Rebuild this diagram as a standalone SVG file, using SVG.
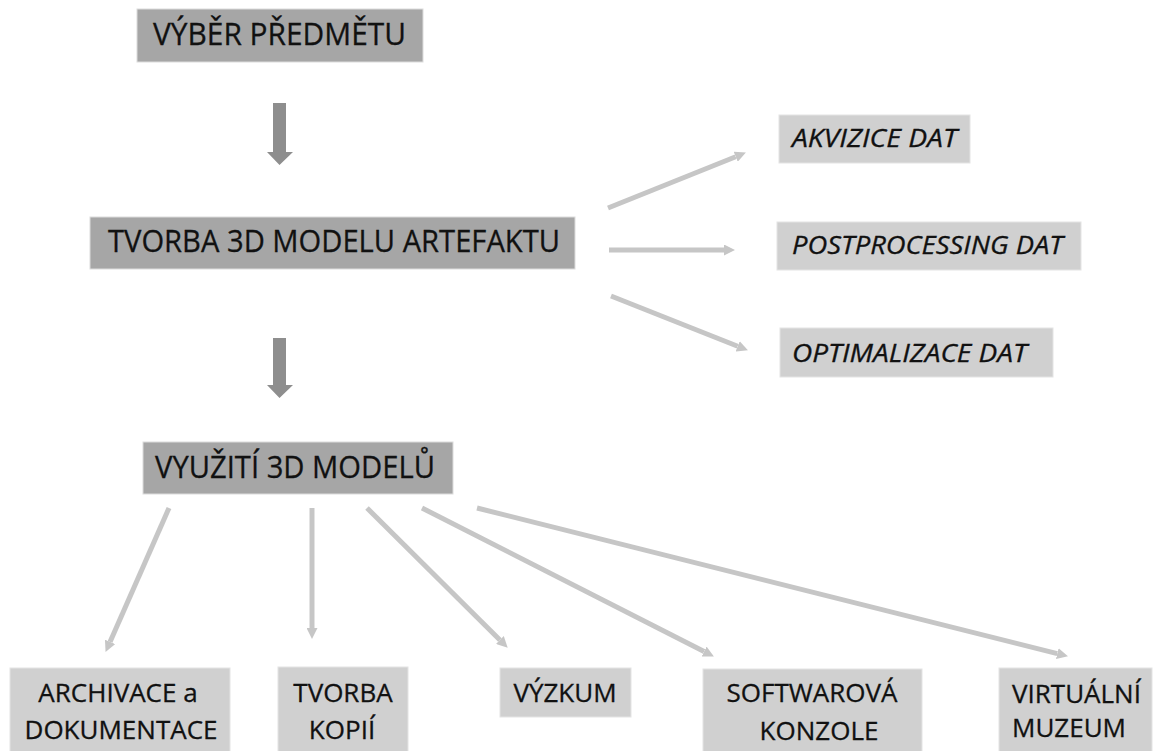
<svg xmlns="http://www.w3.org/2000/svg" width="1158" height="751" viewBox="0 0 1158 751">
<style>
.dark{fill:#a6a6a6;stroke:#dcdcdc;stroke-width:1}
.light{fill:#d0d0d0;stroke:#e4e4e4;stroke-width:1}
text{font-family:"Open Sans","Liberation Sans",sans-serif;fill:#111111;stroke:#111111;stroke-width:0.3}
.big{font-size:31px}
.it{font-size:25px;font-style:italic}
.sm{font-size:26px}
.c{text-anchor:middle}
.ln{stroke:#c6c6c6;stroke-width:5;fill:none;marker-end:url(#ah)}
.blk{fill:#8e8e8e}
</style>
<defs>
<marker id="ah" markerUnits="userSpaceOnUse" viewBox="0 0 10 10" markerWidth="11" markerHeight="11" refX="0" refY="5" orient="auto">
<path d="M0,0 L10,5 L0,10 z" fill="#c6c6c6"/>
</marker>
</defs>
<rect width="1158" height="751" fill="#ffffff"/>

<g id="connectors">
<polygon class="blk" points="273,103 286,103 286,152 293,152 279.5,165 267,152 273,152"/>
<polygon class="blk" points="273,338 286,338 286,385 293,385 279.5,398 267,385 273,385"/>
<path class="ln" d="M608,208 L735.7,156.7"/>
<path class="ln" d="M609,250 L724,250"/>
<path class="ln" d="M611,296 L737.7,346.3"/>
<path class="ln" d="M169,508 L110,641.9"/>
<path class="ln" d="M312,508 L312,628"/>
<path class="ln" d="M367,508 L499.9,640"/>
<path class="ln" d="M422,508 L704.1,651.5"/>
<path class="ln" d="M477,508 L1057.3,653.6"/>
</g>

<g id="vyber">
<rect class="dark" x="137" y="9" width="286" height="53"/>
<text class="big" x="153" y="45" textLength="253" lengthAdjust="spacingAndGlyphs">VÝBĚR PŘEDMĚTU</text>
</g>
<g id="tvorba3d">
<rect class="dark" x="90" y="217" width="485" height="52"/>
<text class="big" x="108" y="252" textLength="452" lengthAdjust="spacingAndGlyphs">TVORBA 3D MODELU ARTEFAKTU</text>
</g>
<g id="akvizice">
<rect class="light" x="779" y="115" width="191" height="48"/>
<text class="it" x="792" y="147" textLength="165" lengthAdjust="spacingAndGlyphs">AKVIZICE DAT</text>
</g>
<g id="postprocessing">
<rect class="light" x="777" y="222" width="304" height="48"/>
<text class="it" x="792" y="254" textLength="271" lengthAdjust="spacingAndGlyphs">POSTPROCESSING DAT</text>
</g>
<g id="optimalizace">
<rect class="light" x="780" y="328" width="273" height="49"/>
<text class="it" x="792" y="362" textLength="235" lengthAdjust="spacingAndGlyphs">OPTIMALIZACE DAT</text>
</g>
<g id="vyuziti">
<rect class="dark" x="143" y="442" width="310" height="52"/>
<text class="big" x="155" y="478" textLength="280" lengthAdjust="spacingAndGlyphs">VYUŽITÍ 3D MODELŮ</text>
</g>
<g id="archivace">
<rect class="light" x="10" y="668" width="220" height="90"/>
<text class="sm c" x="118" y="702">ARCHIVACE a</text>
<text class="sm c" x="121" y="739">DOKUMENTACE</text>
</g>
<g id="kopie">
<rect class="light" x="278" y="667" width="130" height="90"/>
<text class="sm c" x="343" y="702">TVORBA</text>
<text class="sm c" x="342" y="739">KOPIÍ</text>
</g>
<g id="vyzkum">
<rect class="light" x="500" y="668" width="131" height="49"/>
<text class="sm c" x="565" y="702">VÝZKUM</text>
</g>
<g id="softwarova">
<rect class="light" x="703" y="669" width="219" height="90"/>
<text class="sm c" x="812" y="702">SOFTWAROVÁ</text>
<text class="sm c" x="819" y="740">KONZOLE</text>
</g>
<g id="muzeum">
<rect class="light" x="999" y="668" width="153" height="90"/>
<text class="sm" x="1012" y="703">VIRTUÁLNÍ</text>
<text class="sm" x="1012" y="737">MUZEUM</text>
</g>
</svg>
